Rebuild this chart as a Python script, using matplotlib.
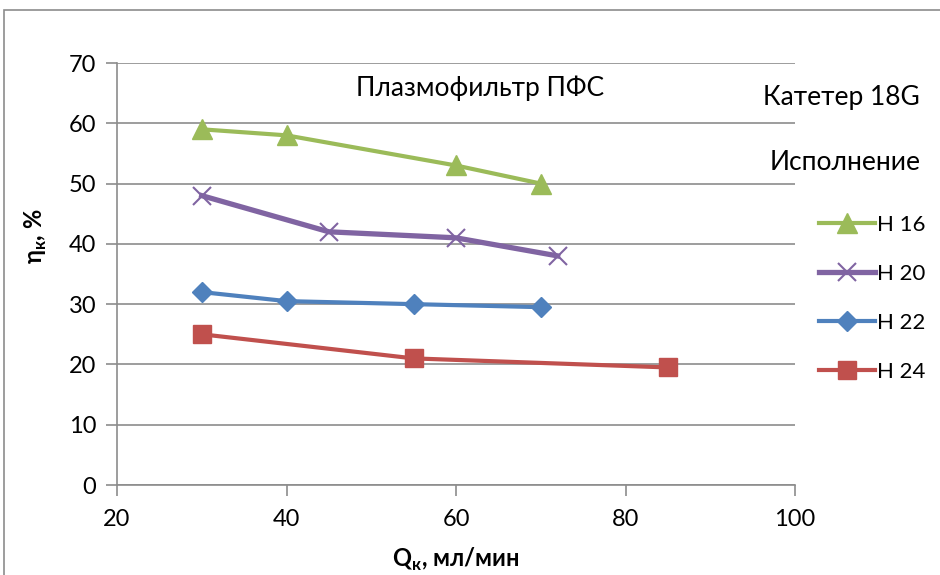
import matplotlib.pyplot as plt
from matplotlib.patches import Rectangle

plt.rcParams['font.family'] = ['Lato', 'DejaVu Sans']

# data
labels = ['Н 16', 'Н 20', 'Н 22', 'Н 24']
x_h16 = [30, 40, 60, 70]
y_h16 = [59, 58, 53, 50]
x_h20 = [30, 45, 60, 72]
y_h20 = [48, 42, 41, 38]
x_h22 = [30, 40, 55, 70]
y_h22 = [32, 30.5, 30, 29.5]
x_h24 = [30, 55, 85]
y_h24 = [25, 21, 19.5]

colors = ['#9BBB59', '#8064A2', '#4F81BD', '#C0504D']
grid_col = '#8c8c8c'

fig = plt.figure(figsize=(9.4, 5.75), dpi=100)
ax = fig.add_axes([117/940, 90/575, (795-117)/940, (485-63)/575])

ax.plot(x_h16, y_h16, color=colors[0], lw=3, marker='^', ms=14, label=labels[0])
ax.plot(x_h20, y_h20, color=colors[1], lw=3.8, marker='x', ms=13, mew=1.5, label=labels[1])
ax.plot(x_h22, y_h22, color=colors[2], lw=3, marker='D', ms=10, label=labels[2])
ax.plot(x_h24, y_h24, color=colors[3], lw=3, marker='s', ms=13, label=labels[3])

ax.set_xlim(20, 100)
ax.set_ylim(0, 70)
ax.set_xticks(range(20, 101, 20))
ax.set_yticks(range(0, 71, 10))
ax.grid(axis='y', color=grid_col, lw=1.2)
ax.set_axisbelow(True)
for s in ['top', 'right']:
    ax.spines[s].set_visible(False)
for s in ['left', 'bottom']:
    ax.spines[s].set_color(grid_col)
    ax.spines[s].set_linewidth(1.2)
ax.tick_params(colors=grid_col, labelcolor='black', labelsize=17, length=8, width=1.2)
ax.tick_params(axis='x', pad=9)
ax.tick_params(axis='y', pad=7)

ax.set_xlabel('Q$_\\mathregular{к}$, мл/мин', fontsize=17, fontweight='bold', labelpad=12)
ax.set_ylabel('η$_\\mathregular{к}$, %', fontsize=17, fontweight='bold')
ax.yaxis.set_label_coords(-0.1, 0.59)

fig.text(480/940, 1 - 88/575, 'Плазмофильтр ПФС', fontsize=19, ha='center', va='center')
fig.text(920/940, 1 - 97/575, 'Катетер 18G', fontsize=19, ha='right', va='center')
fig.text(921/940, 1 - 163/575, 'Исполнение', fontsize=19, ha='right', va='center')

ax.legend(loc='upper left', bbox_to_anchor=(799/940, 1 - 195/575), bbox_transform=fig.transFigure,
          frameon=False, fontsize=16, handlelength=2.5, handletextpad=0.1, labelspacing=1.3)

fig.patches.append(Rectangle((4/940, -0.1), 1.2, 1 - 10/575 + 0.1, transform=fig.transFigure,
                             fill=False, edgecolor='#8c8c8c', lw=1.2))

fig.savefig('out.png', dpi=100)
